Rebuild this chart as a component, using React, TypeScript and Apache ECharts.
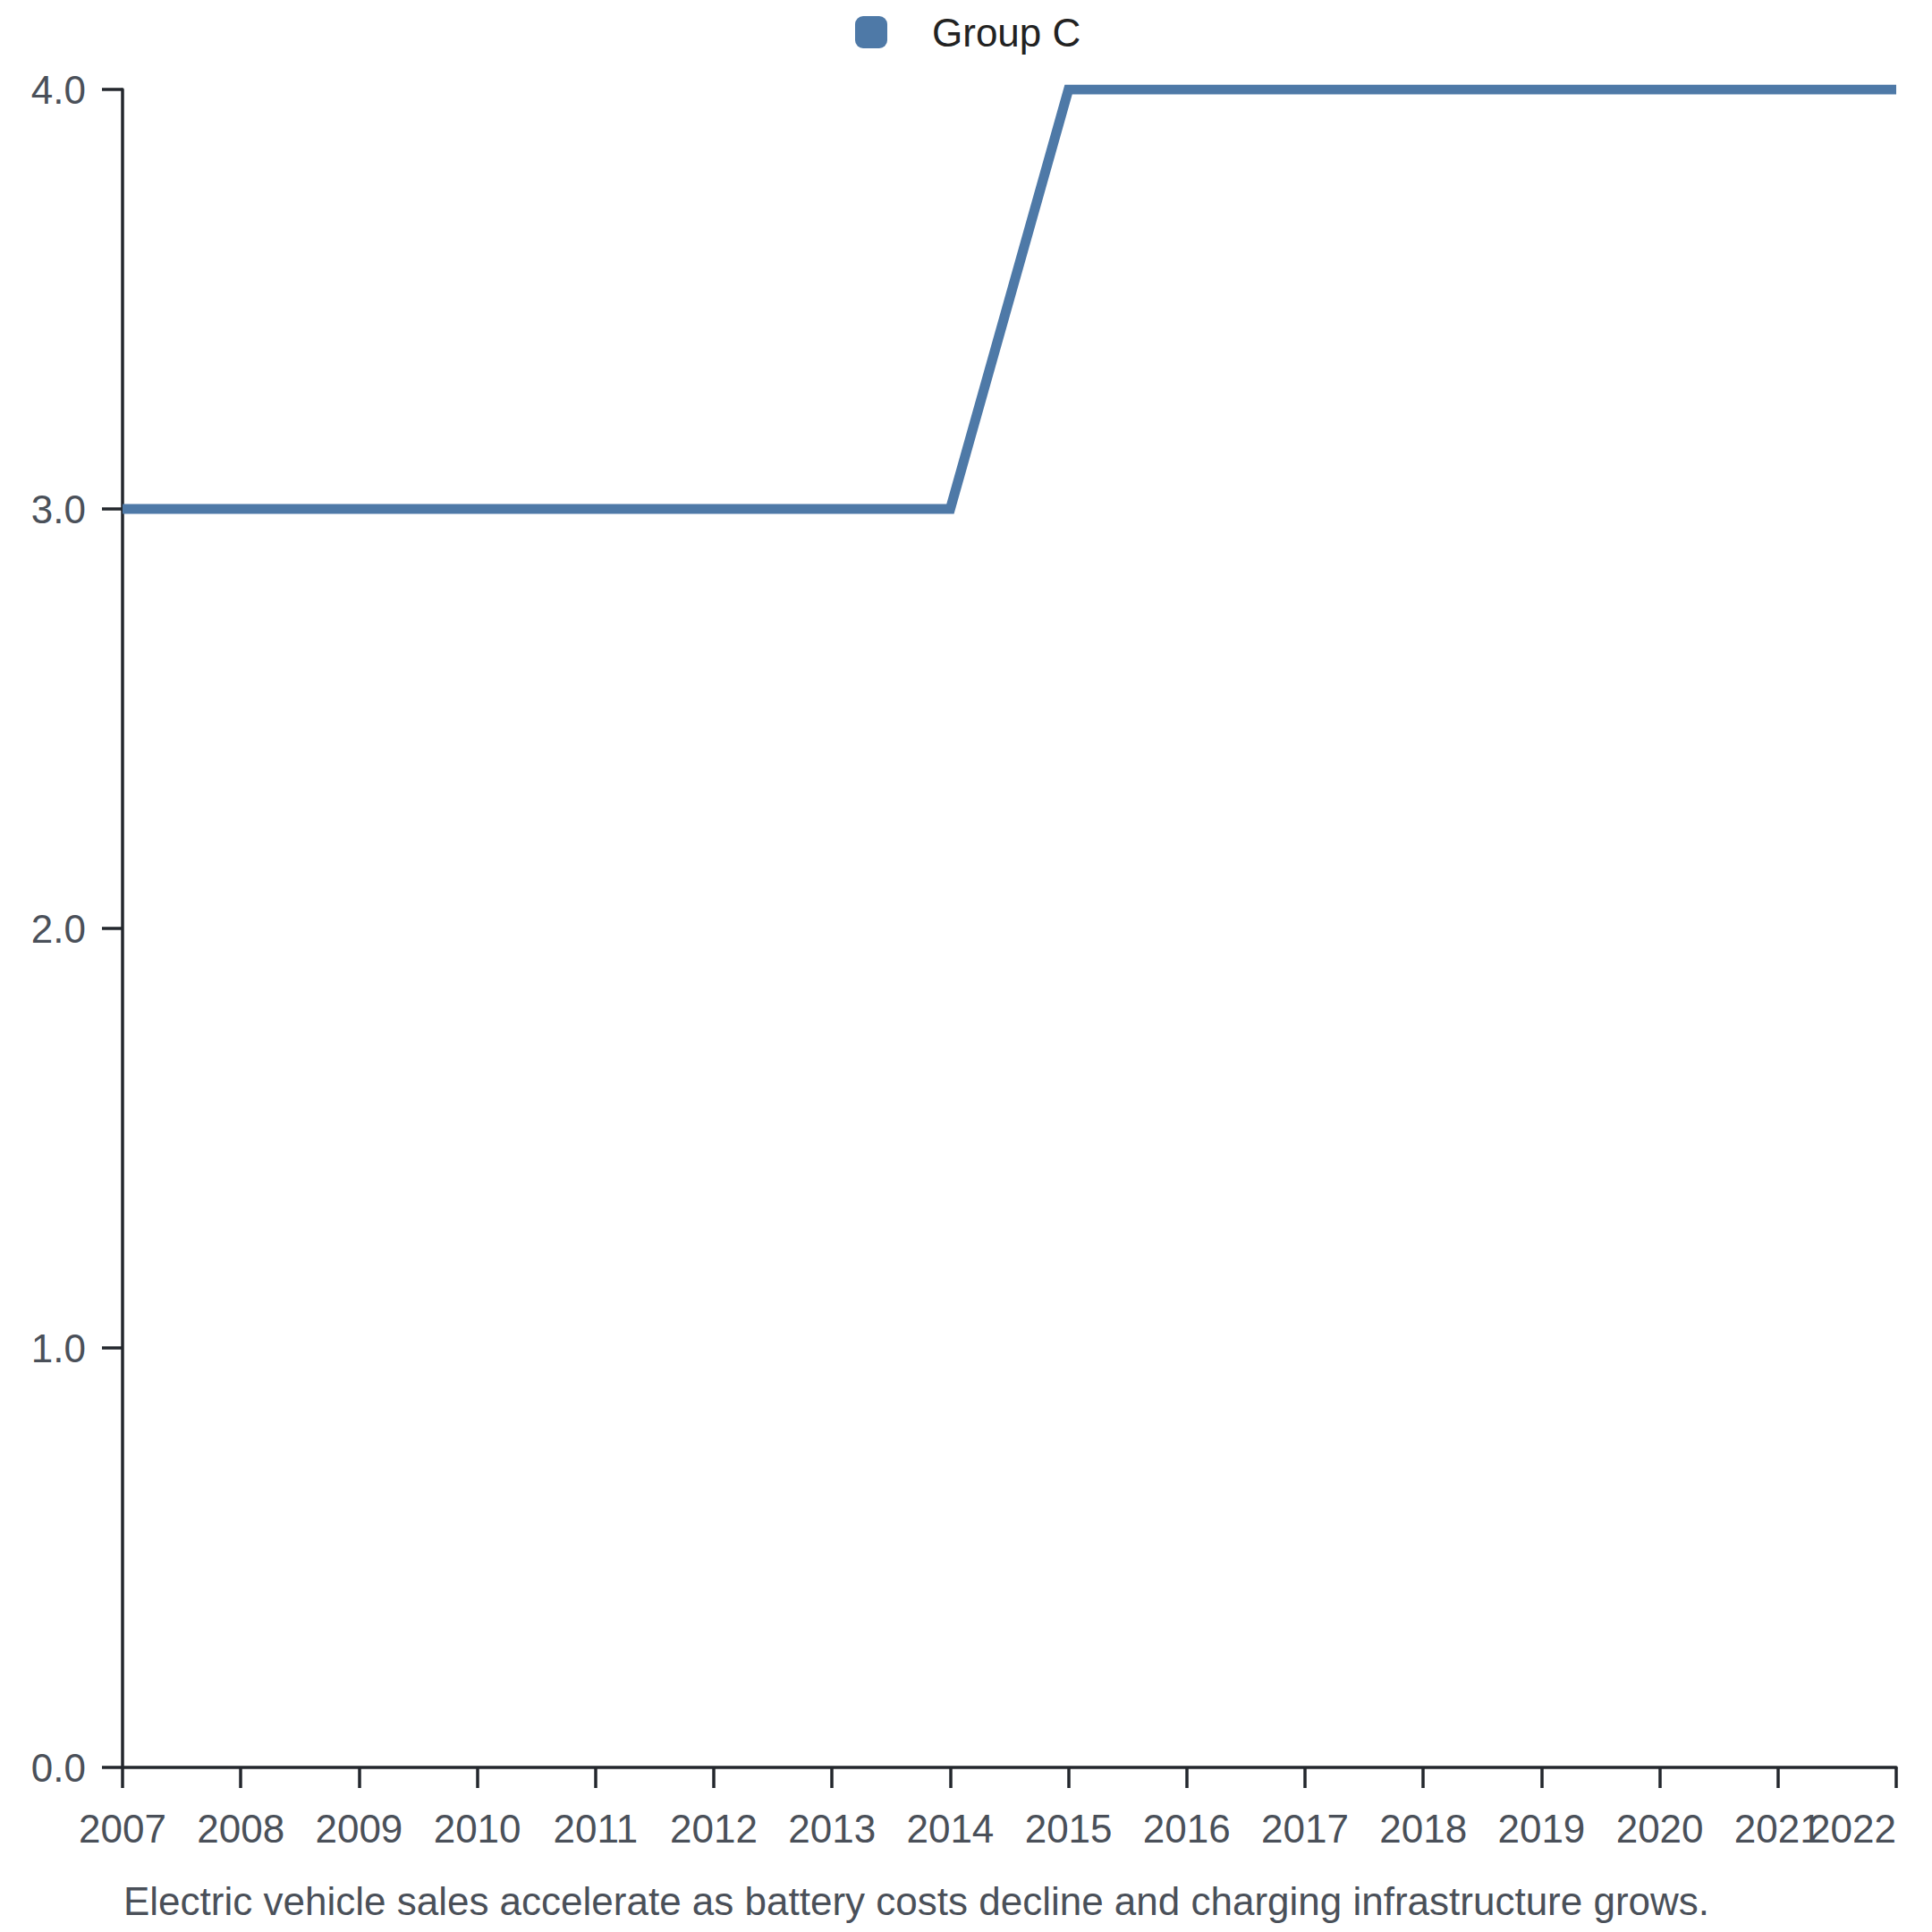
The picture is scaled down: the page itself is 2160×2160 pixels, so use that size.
import React, { useEffect, useRef } from "react";
import * as echarts from "echarts";

const years = ["2007","2008","2009","2010","2011","2012","2013","2014","2015","2016","2017","2018","2019","2020","2021","2022"];
const groupC = [3, 3, 3, 3, 3, 3, 3, 3, 4, 4, 4, 4, 4, 4, 4, 4];
const seriesName = "Group C";
const caption = "Electric vehicle sales accelerate as battery costs decline and charging infrastructure grows.";

const FONT = "Liberation Sans, Arial, Helvetica, sans-serif";
const BLUE = "#4e79a7";
const AXIS = "#23272d";
const LABEL = "#4a5059";

export default function App() {
  const ref = useRef<HTMLDivElement>(null);
  useEffect(() => {
    if (!ref.current) return;
    const chart = echarts.init(ref.current, undefined, { renderer: "svg" });
    chart.setOption({
      animation: false,
      backgroundColor: "#ffffff",
      textStyle: { fontFamily: FONT },
      legend: {
        data: [{ name: seriesName, icon: "roundRect" }],
        left: 956,
        top: 14,
        padding: 0,
        itemWidth: 36,
        itemHeight: 36,
        textStyle: { fontSize: 44, color: "#222222", fontFamily: FONT, padding: [0, 0, 0, 45] },
      },
      grid: { left: 137, right: 40, top: 100, bottom: 184, containLabel: false },
      xAxis: {
        type: "category",
        data: years,
        boundaryGap: false,
        axisLine: { show: true, lineStyle: { color: AXIS, width: 3.5 } },
        axisTick: { show: true, length: 23, alignWithLabel: true, interval: 0, lineStyle: { color: AXIS, width: 3.5 } },
        axisLabel: { interval: 0, fontSize: 44, color: LABEL, margin: 46, fontFamily: FONT, alignMaxLabel: "right" },
        splitLine: { show: false },
      },
      yAxis: {
        type: "value",
        min: 0,
        max: 4,
        interval: 1,
        axisLine: { show: true, lineStyle: { color: AXIS, width: 3.5 } },
        axisTick: { show: true, length: 23, lineStyle: { color: AXIS, width: 3.5 } },
        axisLabel: { fontSize: 44, color: LABEL, margin: 41, fontFamily: FONT, formatter: (v: number) => v.toFixed(1) },
        splitLine: { show: false },
      },
      series: [
        {
          name: seriesName,
          type: "line",
          data: groupC,
          symbol: "none",
          showSymbol: false,
          itemStyle: { color: BLUE },
          lineStyle: { color: BLUE, width: 11, join: "miter", cap: "butt" },
        },
      ],
      graphic: [
        {
          type: "text",
          left: 138,
          top: 2103,
          style: { text: caption, fontSize: 44, fill: LABEL, fontFamily: FONT },
        },
      ],
    });
    return () => chart.dispose();
  }, []);
  return <div ref={ref} style={{ position: "fixed", left: 0, top: 0, width: 2160, height: 2160 }} />;
}
